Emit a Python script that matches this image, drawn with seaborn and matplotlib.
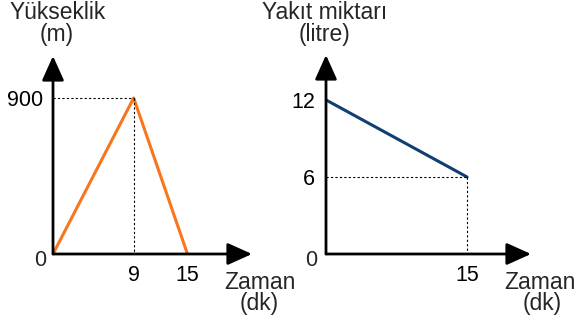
import pandas as pd
import matplotlib.pyplot as plt
import seaborn as sns

# data
time_alt = [0, 9, 15]
altitude = [0, 900, 0]
time_fuel = [0, 15]
fuel = [12, 6]

sns.set_theme(style="white")
plt.rcParams['font.family'] = ['Liberation Sans', 'DejaVu Sans']

W, H = 577, 323
fig = plt.figure(figsize=(W / 100, H / 100), dpi=100)

def px_axes(x0, y0, x1, y1):
    # pixel box (left, bottom origin, right tip, top tip) -> axes
    return fig.add_axes([x0 / W, (H - y0) / H, (x1 - x0) / W, (y0 - y1) / H])

def arrow_axes(ax):
    for sp in ax.spines.values():
        sp.set_visible(False)
    kw = dict(xycoords='axes fraction', textcoords='axes fraction',
              arrowprops=dict(arrowstyle='-|>,head_length=1.0,head_width=0.45',
                              color='black', lw=2.0, shrinkA=0, shrinkB=0,
                              mutation_scale=15))
    ax.annotate('', xy=(1, 0), xytext=(0, 0), **kw)
    ax.annotate('', xy=(0, 1), xytext=(0, 0), **kw)
    ax.set_facecolor('none')
    ax.tick_params(length=0, labelsize=15.5, colors='black')

# left panel
ax1 = px_axes(53, 254, 252, 56)
df1 = pd.DataFrame({'t': time_alt, 'h': altitude})
sns.lineplot(data=df1, x='t', y='h', ax=ax1, color='#F7761E', lw=2.2)
ax1.plot([0, 9], [900, 900], color='black', lw=0.8, ls=(0, (2, 2)))
ax1.plot([9, 9], [900, 0], color='black', lw=0.8, ls=(0, (2, 2)))
ax1.set_xlim(0, 22.2)
ax1.set_ylim(0, 1142)
ax1.set_xticks([9, 15])
ax1.set_yticks([900])
ax1.tick_params(axis='x', pad=8)
ax1.tick_params(axis='y', pad=7)
ax1.set_xlabel('')
ax1.set_ylabel('')
arrow_axes(ax1)
ax1.annotate('0', xy=(0, 0), xytext=(-13, -7), textcoords='offset pixels',
             ha='center', va='center', fontsize=15.5)

# right panel
ax2 = px_axes(326, 254, 531, 55)
df2 = pd.DataFrame({'t': time_fuel, 'v': fuel})
sns.lineplot(data=df2, x='t', y='v', ax=ax2, color='#0F3E73', lw=2.2)
ax2.plot([0, 15], [6, 6], color='black', lw=0.8, ls=(0, (2, 2)))
ax2.plot([15, 15], [6, 0], color='black', lw=0.8, ls=(0, (2, 2)))
ax2.set_xlim(0, 21.8)
ax2.set_ylim(0, 15.5)
ax2.set_xticks([15])
ax2.set_yticks([6, 12])
ax2.tick_params(axis='x', pad=8)
ax2.tick_params(axis='y', pad=8)
ax2.set_xlabel('')
ax2.set_ylabel('')
arrow_axes(ax2)
ax2.annotate('0', xy=(0, 0), xytext=(-15, -7), textcoords='offset pixels',
             ha='center', va='center', fontsize=15.5)

# axis titles (baseline positions in pixels)
def ptext(x, y, s):
    fig.text(x / W, 1 - y / H, s, ha='center', va='baseline', fontsize=16.5)

ptext(58, 19, 'Yükseklik')
ptext(57, 41, '(m)')
ptext(325, 19, 'Yakıt miktarı')
ptext(324, 41, '(litre)')
ptext(260, 289, 'Zaman')
ptext(259, 310, '(dk)')
ptext(540, 289, 'Zaman')
ptext(542, 310, '(dk)')

fig.savefig('out.png', dpi=100)
